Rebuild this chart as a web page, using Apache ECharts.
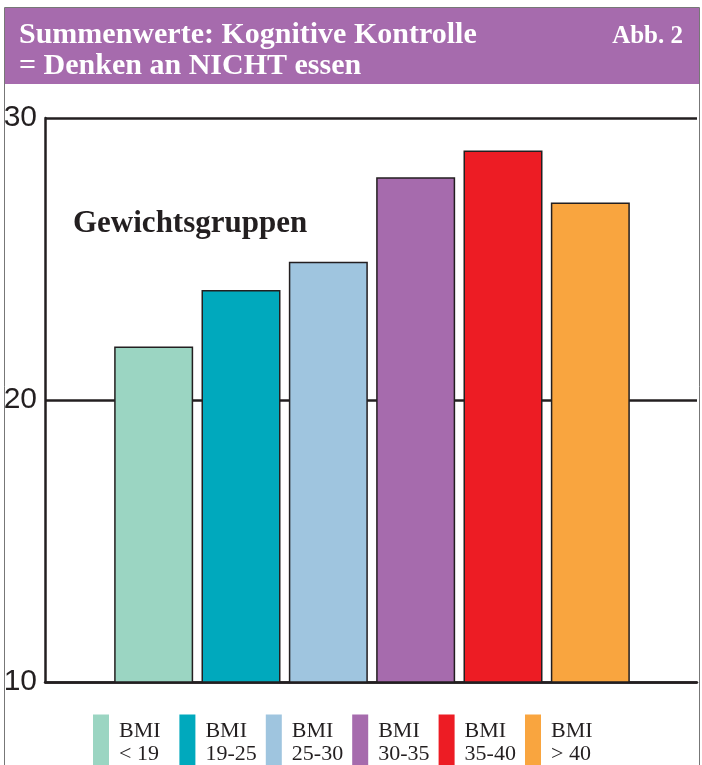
<!DOCTYPE html>
<html>
<head>
<meta charset="utf-8">
<script src="https://cdn.jsdelivr.net/npm/echarts@6/dist/echarts.min.js"></script>
<style>
  html, body { margin: 0; padding: 0; background: #fff; }
  #chart { width: 702px; height: 765px; }
</style>
</head>
<body>
<div id="chart"></div>
<script>
// Gewichtsgruppen (BMI) und Summenwerte
var groups = ['BMI\n< 19', 'BMI\n19-25', 'BMI\n25-30', 'BMI\n30-35', 'BMI\n35-40', 'BMI\n> 40']
var values = [21.9, 23.9, 24.9, 27.9, 28.85, 27.0]
var colors = ['#9bd5c2', '#00a9bd', '#9fc5df', '#a66bad', '#ed1c24', '#f9a53f']
var yTicks = [10, 20, 30]

var ink = '#231f20'
var serif = '"Liberation Serif", "DejaVu Serif", serif'

var chart = echarts.init(document.getElementById('chart'))

// one series per group so the legend lists every group
var series = groups.map(function (name, i) {
  return {
    name: name,
    type: 'bar',
    xAxisIndex: 1,
    yAxisIndex: 1,
    barWidth: 79,
    barGap: '-100%',
    silent: true,
    itemStyle: {
      color: colors[i],
      borderColor: ink,
      borderWidth: 1.5
    },
    data: values.map(function (v, j) {
      return j === i ? v : '-'
    })
  }
})

// one legend per group, evenly spaced like the print
var legends = groups.map(function (name, i) {
  return {
    data: [name],
    left: 93 + i * 86.4,
    top: 713,
    padding: 0,
    icon: 'rect',
    itemWidth: 16,
    itemHeight: 56,
    itemTextGap: 11,
    selectedMode: false,
    itemStyle: { borderWidth: 0 },
    textStyle: {
      color: ink,
      fontFamily: serif,
      fontSize: 22,
      lineHeight: 23,
      padding: [13, 0, 0, 5]
    }
  }
})

chart.setOption({
  animation: false,
  color: colors,
  graphic: [
    {
      type: 'rect',
      shape: { x: 4.5, y: 7.5, width: 695, height: 770 },
      style: { fill: 'none', stroke: '#777', lineWidth: 1 },
      z: 0
    },
    {
      type: 'rect',
      shape: { x: 5, y: 8, width: 694, height: 76 },
      style: { fill: '#a66bad' },
      z: 1
    }
  ],
  title: [
    {
      text: 'Summenwerte: Kognitive Kontrolle\n= Denken an NICHT essen',
      left: 14,
      top: 15,
      textStyle: {
        color: '#fff',
        fontFamily: serif,
        fontWeight: 'bold',
        fontSize: 30,
        lineHeight: 31
      }
    },
    {
      text: 'Abb. 2',
      right: 14,
      top: 19,
      textStyle: {
        color: '#fff',
        fontFamily: serif,
        fontWeight: 'bold',
        fontSize: 25
      }
    },
    {
      text: 'Gewichtsgruppen',
      left: 68,
      top: 203,
      textStyle: {
        color: ink,
        fontFamily: serif,
        fontWeight: 'bold',
        fontSize: 31
      }
    }
  ],
  legend: legends,
  grid: [
    { left: 45, right: 5, top: 118, bottom: 83 },
    { left: 110, right: 68, top: 118, bottom: 83 }
  ],
  xAxis: [
    {
      gridIndex: 0,
      type: 'value',
      min: 0,
      max: 1,
      axisLine: { show: true, lineStyle: { color: ink, width: 2.5 } },
      axisTick: { show: false },
      axisLabel: { show: false },
      splitLine: { show: false }
    },
    {
      gridIndex: 1,
      type: 'category',
      data: groups,
      show: false
    }
  ],
  yAxis: [
    {
      gridIndex: 0,
      type: 'value',
      min: yTicks[0],
      max: yTicks[yTicks.length - 1],
      interval: 10,
      axisLine: { show: true, lineStyle: { color: ink, width: 2.5 } },
      axisTick: { show: false },
      axisLabel: {
        color: ink,
        fontFamily: '"Liberation Sans", sans-serif',
        fontSize: 30,
        margin: 8
      },
      splitLine: { show: true, lineStyle: { color: ink, width: 2.5 } }
    },
    {
      gridIndex: 1,
      type: 'value',
      min: yTicks[0],
      max: yTicks[yTicks.length - 1],
      interval: 10,
      show: false,
      splitLine: { show: false }
    }
  ],
  series: series
})
</script>
</body>
</html>
